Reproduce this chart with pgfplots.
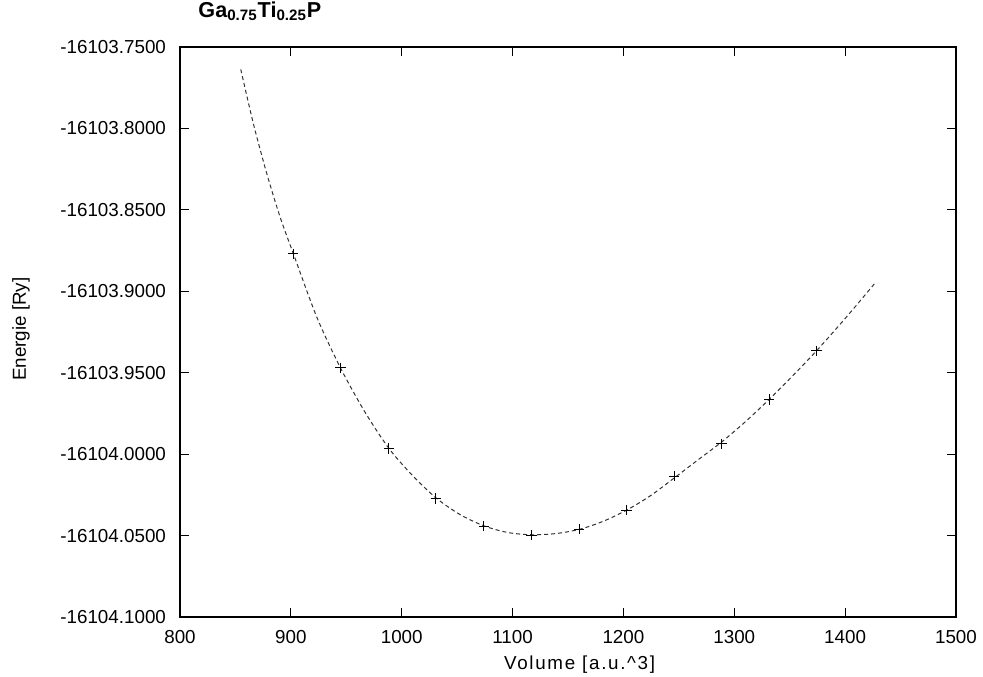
\documentclass[border=0pt]{standalone}
\usepackage{fontspec}
\setmainfont{Liberation Sans}
\newfontfamily\widefont[LetterSpace=9]{Liberation Sans}
\usepackage{pgfplots}
\pgfplotsset{compat=1.18}
\usepackage{pgfplotstable}
% dE = E + 16104 [Ry]
\pgfplotstableread{
V      dE
902.2  0.1229
944.9  0.0530
988.5  0.0035
1030.8 -0.0272
1074.1 -0.0442
1117.1 -0.0498
1160.1 -0.0461
1202.8 -0.0344
1245.7 -0.0135
1288.5 0.0064
1331.4 0.0336
1374.1 0.0635
}\pointdata
\pgfplotstableread{
V      dE
854.8  0.2363
866.1  0.2032
878.2  0.1725
890.2  0.1458
902.2  0.1232
923.5  0.0840
944.9  0.0528
966.7  0.0260
988.5  0.0035
1009.6 -0.0130
1030.8 -0.0268
1052.4 -0.0370
1074.1 -0.0440
1095.6 -0.0481
1117.1 -0.0495
1138.6 -0.0488
1160.1 -0.0462
1181.5 -0.0413
1202.8 -0.0344
1224.2 -0.0256
1245.7 -0.0147
1267.1 -0.0036
1288.5 0.0074
1310.0 0.0199
1331.4 0.0336
1352.8 0.0482
1374.1 0.0634
1401.4 0.0844
1426.9 0.1050
}\curvedata
\begin{document}
\begin{tikzpicture}
\useasboundingbox (-90pt,-29.5pt) rectangle (401.5pt,308.5pt);
\begin{axis}[
  at={(0pt,0pt)}, anchor=south west,
  width=388pt, height=285pt, scale only axis,
  font=\fontsize{9.4}{11}\selectfont,
  xmin=800, xmax=1500, ymin=-0.1, ymax=0.25,
  xtick={800,900,...,1500},
  xticklabels={800,900,1000,1100,1200,1300,1400,1500},
  ytick={-0.1,-0.05,0,0.05,0.1,0.15,0.2,0.25},
  yticklabels={-16104.1000,-16104.0500,-16104.0000,-16103.9500,-16103.9000,-16103.8500,-16103.8000,-16103.7500},
  tick align=inside,
  major tick length=4.5pt,
  tick style={black, line width=0.5pt},
  axis line style={black, line width=0.8pt},
  yticklabel style={xshift=-3.5pt},
  xticklabel style={yshift=-3pt},
  xlabel={\widefont Volume [a.u.\^{}3]},
  ylabel={Energie [Ry]},
  x label style={at={(axis description cs:0.515,0)}, anchor=center, yshift=-24pt},
  y label style={at={(axis description cs:0,0.505)}, anchor=center, yshift=79.5pt},
  title={\bfseries Ga\textsubscript{0.75}Ti\textsubscript{0.25}P},
  title style={at={(axis description cs:0.103,1)}, anchor=center, yshift=12pt, font=\fontsize{10.8}{12}\selectfont},
  clip=true,
]
\addplot[black!80, line width=0.5pt, dash pattern=on 2pt off 1.5pt, smooth, no markers] table[x=V,y=dE] {\curvedata};
\addplot[only marks, mark=+, mark size=2.6pt, black, mark options={line width=0.5pt}] table[x=V,y=dE] {\pointdata};
\end{axis}
\end{tikzpicture}
\end{document}
